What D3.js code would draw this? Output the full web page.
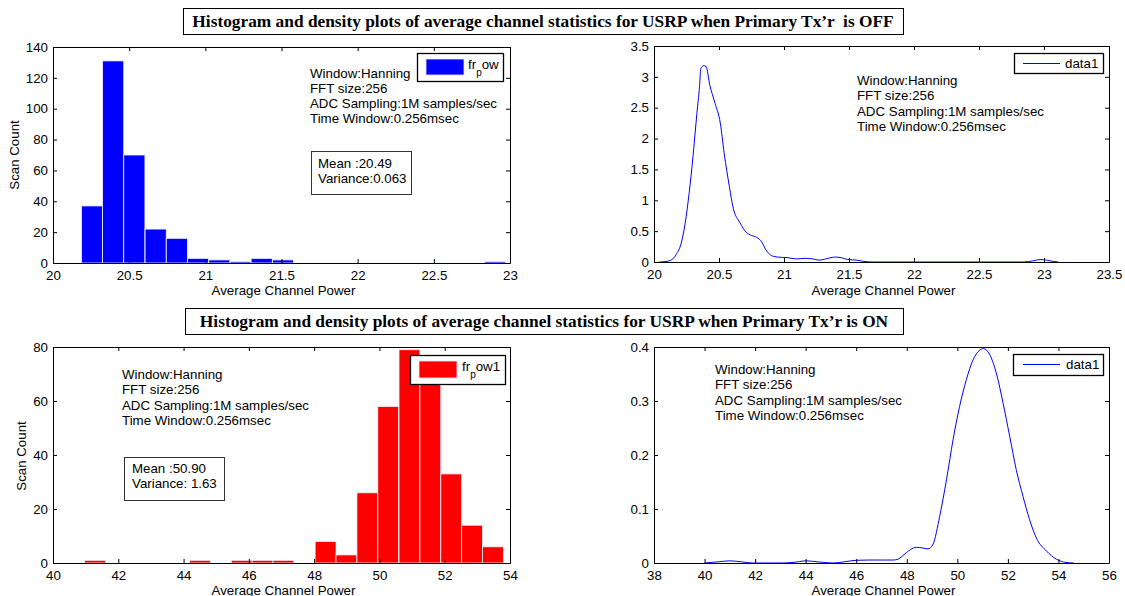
<!DOCTYPE html>
<html>
<head>
<meta charset="utf-8">
<script src="https://cdn.jsdelivr.net/npm/d3@7"></script>
<style>
  html, body { margin: 0; padding: 0; background: #fff; }
  svg { display: block; font-family: Arial, "Liberation Sans", sans-serif; }
</style>
</head>
<body>
<svg id="chart" width="1125" height="596"></svg>
<script>
// ---------------- DATA ----------------
const titleOff = "Histogram and density plots of average channel statistics for USRP when Primary Tx\u2019r  is OFF";
const titleOn  = "Histogram and density plots of average channel statistics for USRP when Primary Tx\u2019r is ON";
const xAxisLabel = "Average Channel Power";
const yAxisLabel = "Scan Count";
const infoLines = ["Window:Hanning", "FFT size:256", "ADC Sampling:1M samples/sec", "Time Window:0.256msec"];
const statsOff = ["Mean :20.49", "Variance:0.063"];
const statsOn  = ["Mean :50.90", "Variance: 1.63"];
const densityLegend = "data1";

// Primary OFF histogram (bin centres, counts)
const offBinCenters = [20.256, 20.395, 20.534, 20.674, 20.813, 20.952, 21.092, 21.231, 21.370, 21.510,
                       21.649, 21.788, 21.928, 22.067, 22.206, 22.346, 22.485, 22.624, 22.764, 22.903];
const offCounts     = [37, 131, 70, 22, 16, 3, 2, 1, 3, 2, 0, 0, 0, 0, 0, 0, 0, 0, 0, 1];

// Primary ON histogram
const onBinCenters = [41.29, 41.93, 42.57, 43.22, 43.86, 44.50, 45.14, 45.78, 46.42, 47.06,
                      47.71, 48.35, 48.99, 49.63, 50.27, 50.92, 51.56, 52.20, 52.84, 53.48];
const onCounts     = [1, 0, 0, 0, 0, 1, 0, 1, 1, 1, 0, 8, 3, 26, 58, 79, 70, 33, 14, 6];

// Primary OFF density
const offDensityX = [20.04,20.10,20.15,20.17,20.21,20.24,20.27,20.30,20.33,20.35,20.36,20.38,20.40,20.43,20.47,20.51,
                     20.54,20.58,20.61,20.66,20.71,20.75,20.79,20.83,20.86,20.92,20.98,21.03,21.09,21.17,21.22,21.27,
                     21.35,21.39,21.44,21.49,21.56,21.61,21.68,21.9,22.2,22.5,22.84,22.92,22.97,23.02,23.07,23.11];
const offDensityY = [0,0.01,0.06,0.12,0.31,0.63,1.11,1.71,2.41,2.84,3.13,3.18,3.17,2.86,2.57,2.25,
                     1.76,1.22,0.87,0.64,0.48,0.43,0.40,0.32,0.20,0.09,0.075,0.07,0.05,0.06,0.05,0.03,
                     0.065,0.08,0.07,0.04,0.03,0.01,0,0,0,0,0,0.02,0.04,0.03,0.01,0];

// Primary ON density
const onDensityX = [40.0,40.5,41.0,41.5,41.9,43.0,43.5,44.03,44.5,45.08,45.5,46.0,46.5,47.0,47.46,47.65,47.8,47.98,
                    48.15,48.38,48.6,48.84,49.04,49.3,49.57,49.83,50.09,50.36,50.62,50.88,51.04,51.28,51.54,51.81,
                    52.07,52.33,52.6,52.86,53.13,53.53,53.92,54.3,54.6];
const onDensityY = [0,0.002,0.004,0.002,0,0,0.001,0.004,0.002,0,0.002,0.005,0.0055,0.0055,0.0055,0.007,0.012,0.019,
                    0.025,0.029,0.028,0.026,0.035,0.086,0.154,0.228,0.29,0.34,0.376,0.394,0.397,0.386,0.352,0.296,
                    0.235,0.173,0.123,0.08,0.046,0.022,0.007,0.001,0];

// Axis ticks
const offHistXTicks = [20, 20.5, 21, 21.5, 22, 22.5, 23];
const offHistYTicks = [0, 20, 40, 60, 80, 100, 120, 140];
const offDensXTicks = [20, 20.5, 21, 21.5, 22, 22.5, 23, 23.5];
const offDensYTicks = [0, 0.5, 1, 1.5, 2, 2.5, 3, 3.5];
const onHistXTicks  = [40, 42, 44, 46, 48, 50, 52, 54];
const onHistYTicks  = [0, 20, 40, 60, 80];
const onDensXTicks  = [38, 40, 42, 44, 46, 48, 50, 52, 54, 56];
const onDensYTicks  = [0, 0.1, 0.2, 0.3, 0.4];

// ---------------- LAYOUT ----------------
const svg = d3.select("#chart");
svg.append("rect").attr("width", 1125).attr("height", 596).attr("fill", "#fff");

const FONT = 13.3;
const SANS = "Arial, 'Liberation Sans', sans-serif";
const TICK = 4;

function makePanel(box, xDom, yDom, xTicks, yTicks) {
  const x = d3.scaleLinear().domain(xDom).range([box.x0, box.x1]);
  const y = d3.scaleLinear().domain(yDom).range([box.y1, box.y0]);
  const g = svg.append("g");
  g.append("rect").attr("x", box.x0).attr("y", box.y0)
    .attr("width", box.x1 - box.x0).attr("height", box.y1 - box.y0).attr("fill", "#fff");
  const plot = g.append("g");
  const axesG = g.append("g");
  const fmt = d => String(d);
  const styleAxis = sel => {
    sel.selectAll("path.domain").attr("stroke", "#000").attr("stroke-width", 1);
    sel.selectAll(".tick line").attr("stroke", "#000");
    sel.selectAll("text").style("font-size", FONT + "px").attr("fill", "#000").style("font-family", SANS);
  };
  axesG.append("g").attr("transform", `translate(0,${box.y1})`)
    .call(d3.axisBottom(x).tickValues(xTicks).tickFormat(fmt).tickSizeInner(-TICK).tickSizeOuter(0).tickPadding(8))
    .call(styleAxis);
  axesG.append("g").attr("transform", `translate(0,${box.y0})`)
    .call(d3.axisTop(x).tickValues(xTicks).tickFormat("").tickSizeInner(-TICK).tickSizeOuter(0))
    .call(styleAxis);
  axesG.append("g").attr("transform", `translate(${box.x0},0)`)
    .call(d3.axisLeft(y).tickValues(yTicks).tickFormat(fmt).tickSizeInner(-TICK).tickSizeOuter(0).tickPadding(5))
    .call(styleAxis);
  axesG.append("g").attr("transform", `translate(${box.x1},0)`)
    .call(d3.axisRight(y).tickValues(yTicks).tickFormat("").tickSizeInner(-TICK).tickSizeOuter(0))
    .call(styleAxis);
  return { x, y, g, plot, axesG, box };
}

function drawHist(P, centers, counts, color) {
  const w = centers[1] - centers[0];
  P.plot.selectAll("rect.bar").data(centers.map((c, i) => ({ c, n: counts[i] })).filter(d => d.n > 0))
    .enter().append("rect").attr("class", "bar")
    .attr("x", d => P.x(d.c - w / 2))
    .attr("width", d => P.x(d.c + w / 2) - P.x(d.c - w / 2))
    .attr("y", d => P.y(d.n))
    .attr("height", d => P.y(0) - P.y(d.n))
    .attr("fill", color).attr("stroke", "#f4f4ff").attr("stroke-width", 0.8);
}

function drawDensity(P, xs, ys) {
  const line = d3.line().x(d => P.x(d[0])).y(d => P.y(d[1])).curve(d3.curveMonotoneX);
  P.plot.append("path").datum(xs.map((v, i) => [v, ys[i]]))
    .attr("d", line).attr("fill", "none").attr("stroke", "#0000ff").attr("stroke-width", 1);
}

function textLines(g, lines, x, y0, dy) {
  lines.forEach((t, i) => {
    g.append("text").attr("x", x).attr("y", y0 + i * dy).style("font-size", FONT + "px").attr("fill", "#000").text(t);
  });
}

function statsBox(g, lines, bx, by, bw, bh, tx, ty) {
  g.append("rect").attr("x", bx + 0.5).attr("y", by + 0.5).attr("width", bw).attr("height", bh)
    .attr("fill", "#fff").attr("stroke", "#333").attr("stroke-width", 1);
  textLines(g, lines, tx, ty, 15);
}

function histLegend(g, color, bx, by, bw, bh, px, py, pw, ph, tx, ty, suffix) {
  g.append("rect").attr("x", bx + 0.5).attr("y", by + 0.5).attr("width", bw).attr("height", bh)
    .attr("fill", "#fff").attr("stroke", "#000").attr("stroke-width", 1.3);
  g.append("rect").attr("x", px).attr("y", py).attr("width", pw).attr("height", ph)
    .attr("fill", color).attr("stroke", "#e8e8ff").attr("stroke-width", 0.8);
  const t = g.append("text").attr("x", tx).attr("y", ty).style("font-size", FONT + "px").attr("fill", "#000");
  t.append("tspan").text("fr");
  t.append("tspan").attr("dy", 7).style("font-size", "10px").text("p");
  t.append("tspan").attr("dy", -7).text("ow" + suffix);
}

function lineLegend(g, bx, by, bw, bh, lx0, lx1, ly, tx) {
  g.append("rect").attr("x", bx + 0.5).attr("y", by + 0.5).attr("width", bw).attr("height", bh)
    .attr("fill", "#fff").attr("stroke", "#000").attr("stroke-width", 1.3);
  g.append("line").attr("x1", lx0).attr("x2", lx1).attr("y1", ly + 0.5).attr("y2", ly + 0.5)
    .attr("stroke", "#0000ff").attr("stroke-width", 1);
  g.append("text").attr("x", tx).attr("y", ly + 4.5).style("font-size", FONT + "px").attr("fill", "#000").text(densityLegend);
}

function xLabel(box, y) {
  svg.append("text").attr("x", (box.x0 + box.x1) / 2 + 2).attr("y", y).attr("text-anchor", "middle")
    .style("font-size", FONT + "px").attr("fill", "#000").text(xAxisLabel);
}
function yLabel(cx, cy) {
  svg.append("text").attr("transform", `translate(${cx},${cy}) rotate(-90)`).attr("text-anchor", "middle")
    .attr("dy", "0.35em").style("font-size", FONT + "px").attr("fill", "#000").text(yAxisLabel);
}

// Panels
const P1 = makePanel({ x0: 53, x1: 510, y0: 47, y1: 263 }, [20, 23], [0, 140], offHistXTicks, offHistYTicks);
drawHist(P1, offBinCenters, offCounts, "#0000ff");
textLines(P1.g, infoLines, 310, 77.5, 15.3);
statsBox(P1.g, statsOff, 311, 151, 100, 43, 318, 167.5);
histLegend(P1.g, "#0000ff", 417, 53, 86, 28, 426, 59, 38, 16, 468, 69, "");
P1.g.node().appendChild(P1.axesG.node());

const P2 = makePanel({ x0: 654, x1: 1109, y0: 46, y1: 262 }, [20, 23.5], [0, 3.5], offDensXTicks, offDensYTicks);
drawDensity(P2, offDensityX, offDensityY);
textLines(P2.g, infoLines, 857, 85, 15.3);
lineLegend(P2.g, 1014, 53, 89, 20, 1023, 1060, 63, 1065);
P2.g.node().appendChild(P2.axesG.node());

const P3 = makePanel({ x0: 53, x1: 510, y0: 347, y1: 563 }, [40, 54], [0, 80], onHistXTicks, onHistYTicks);
drawHist(P3, onBinCenters, onCounts, "#ff0000");
textLines(P3.g, infoLines, 122, 379, 15.3);
statsBox(P3.g, statsOn, 124, 457, 100, 43, 132, 472.5);
histLegend(P3.g, "#ff0000", 410, 355, 95, 29, 419, 361, 38, 17, 462, 371, "1");
P3.g.node().appendChild(P3.axesG.node());

const P4 = makePanel({ x0: 654, x1: 1109, y0: 347, y1: 563 }, [38, 56], [0, 0.4], onDensXTicks, onDensYTicks);
drawDensity(P4, onDensityX, onDensityY);
textLines(P4.g, infoLines, 715, 374, 15.3);
lineLegend(P4.g, 1013, 354, 90, 21, 1023, 1060, 364, 1066);
P4.g.node().appendChild(P4.axesG.node());

// Axis labels
xLabel(P1.box, 294.5);
xLabel(P2.box, 294.5);
xLabel(P3.box, 594.5);
xLabel(P4.box, 594.5);
yLabel(14, 155);
yLabel(21, 456);

// Titles
const SERIF = "'Times New Roman', 'Liberation Serif', serif";
function titleBox(text, bx, by, bw, bh) {
  svg.append("rect").attr("x", bx + 0.5).attr("y", by + 0.5).attr("width", bw).attr("height", bh)
    .attr("fill", "#fff").attr("stroke", "#000").attr("stroke-width", 1);
  return svg.append("text").attr("x", bx + bw / 2).attr("y", by + bh / 2).attr("dy", "0.35em")
    .attr("text-anchor", "middle").style("font-family", SERIF)
    .style("font-weight", "bold").style("font-size", "15px").style("white-space", "pre").attr("fill", "#000").text(text);
}
const t1 = titleBox(titleOff, 183, 8, 720, 26);
const t2 = titleBox(titleOn, 185, 308, 718, 26);
const len1 = t1.node().getComputedTextLength();
const fs = 15 * 702 / len1;
t1.style("font-size", fs + "px");
t2.style("font-size", fs + "px");
</script>
</body>
</html>
